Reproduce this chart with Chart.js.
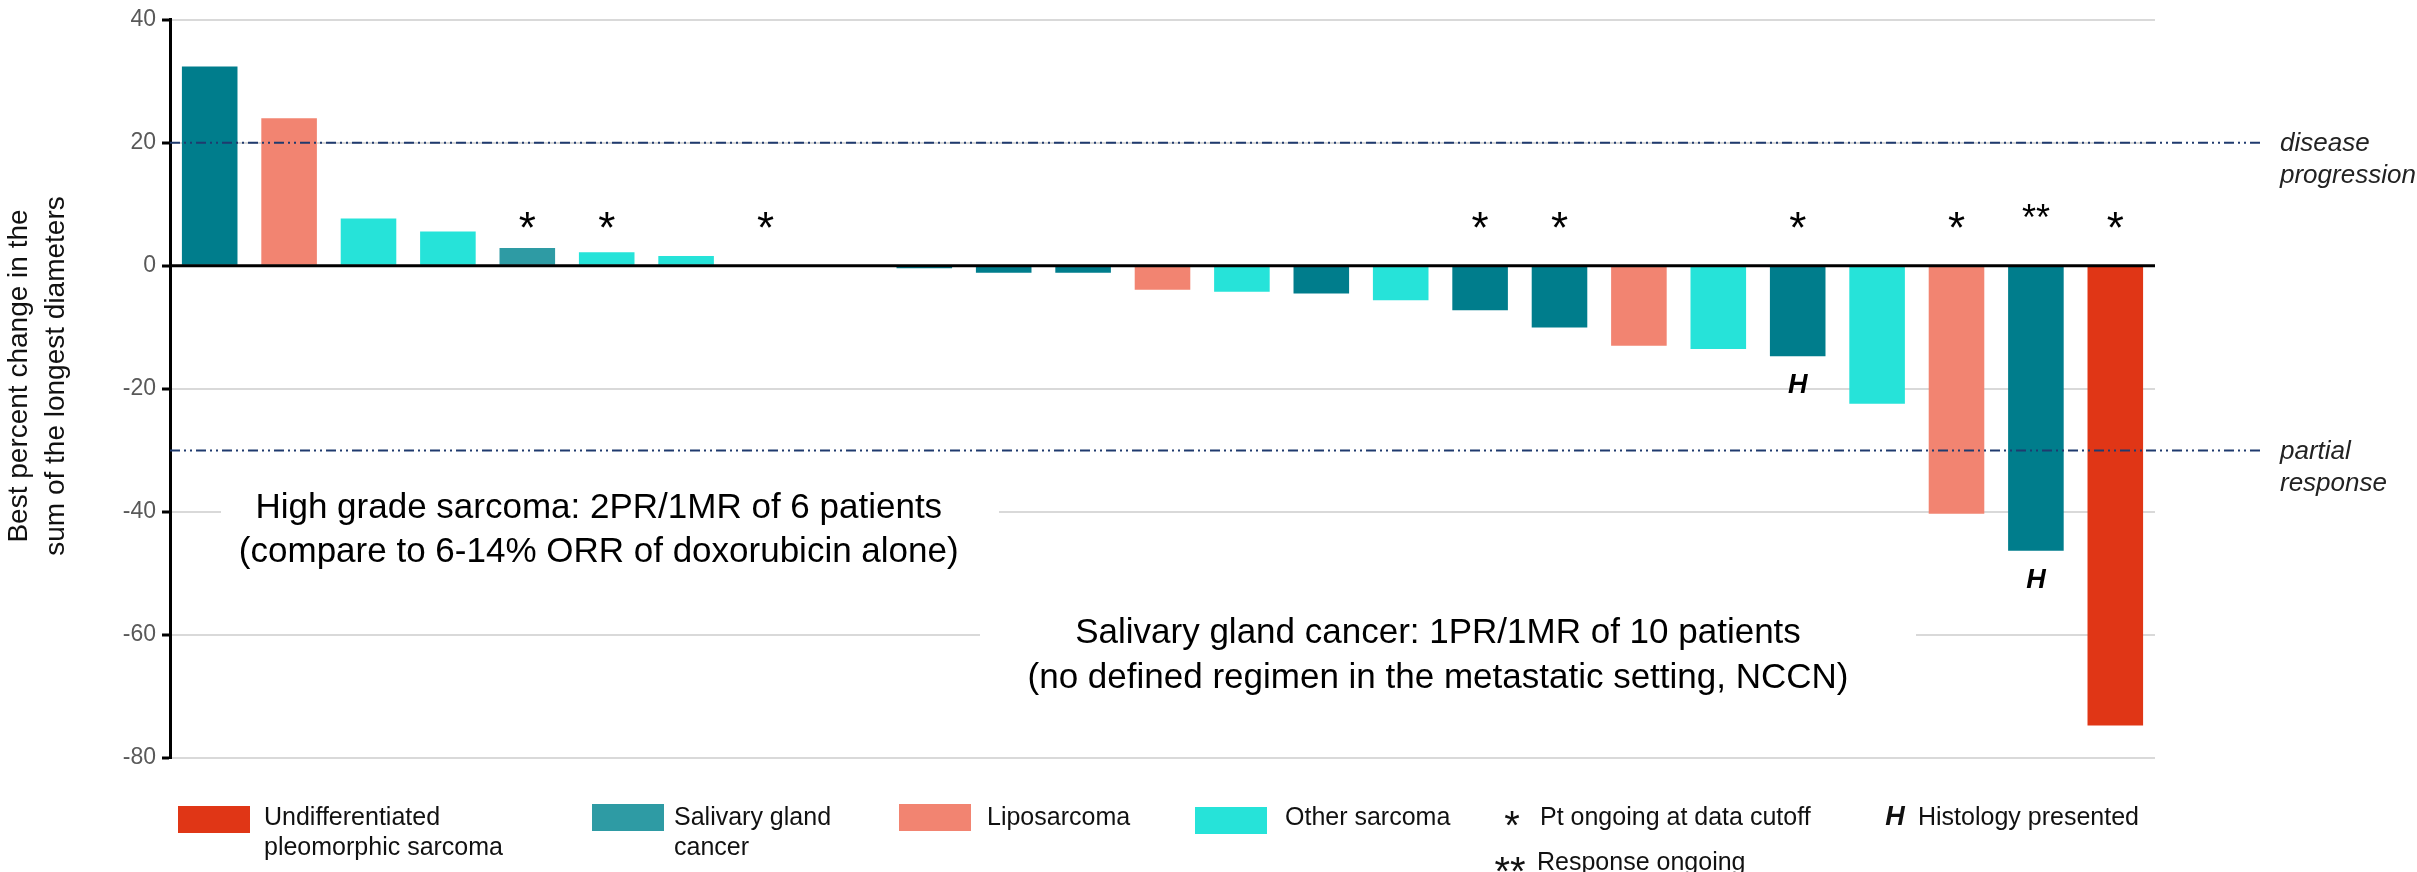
<!DOCTYPE html>
<html>
<head>
<meta charset="utf-8">
<script src="https://cdn.jsdelivr.net/npm/chart.js@4.4.1/dist/chart.umd.min.js"></script>
<style>
  html, body { margin: 0; padding: 0; background: #fff; }
  #wrap { width: 2417px; height: 872px; position: relative; }
</style>
</head>
<body>
<div id="wrap"><canvas id="waterfall"></canvas></div>
<script>
// patients, ordered from worst to best response
const patients = ['P1', 'P2', 'P3', 'P4', 'P5', 'P6', 'P7', 'P8', 'P9', 'P10', 'P11', 'P12', 'P13',
                  'P14', 'P15', 'P16', 'P17', 'P18', 'P19', 'P20', 'P21', 'P22', 'P23', 'P24', 'P25'];
// best percent change in sum of longest diameters
const bestChange = [32.4, 24.0, 7.7, 5.6, 2.9, 2.2, 1.6, 0, 0, -0.4, -1.1, -1.1, -3.9,
                    -4.2, -4.5, -5.6, -7.2, -10.0, -13.0, -13.5, -14.7, -22.4, -40.3, -46.3, -74.7];
// tumour type per patient (SGC2 = salivary, drawn in the legend shade)
const tumorType = ['SGC', 'LPS', 'OS', 'OS', 'SGC2', 'OS', 'OS', 'OS', 'OS', 'SGC', 'SGC', 'SGC', 'LPS',
                   'OS', 'SGC', 'OS', 'SGC', 'SGC', 'LPS', 'OS', 'SGC', 'OS', 'LPS', 'SGC', 'UPS'];
// status markers above the bars
const ongoing = ['', '', '', '', '*', '*', '', '*', '', '', '', '', '',
                 '', '', '', '*', '*', '', '', '*', '', '*', '**', '*'];
const histologyShown = [false, false, false, false, false, false, false, false, false, false, false, false, false,
                        false, false, false, false, false, false, false, true, false, false, true, false];
const yTicks = [-80, -60, -40, -20, 0, 20, 40];
const refLines = [
  { value: 20, label: ['disease', 'progression'] },
  { value: -30, label: ['partial', 'response'] }
];
const groupNotes = [
  { lines: ['High grade sarcoma: 2PR/1MR of 6 patients', '(compare to 6-14% ORR of doxorubicin alone)'] },
  { lines: ['Salivary gland cancer: 1PR/1MR of 10 patients', '(no defined regimen in the metastatic setting, NCCN)'] }
];
const legendLabels = [
  ['Undifferentiated', 'pleomorphic sarcoma'],
  ['Salivary gland', 'cancer'],
  ['Liposarcoma'],
  ['Other sarcoma']
];

const colors = {
  UPS: '#E03616',
  SGC: '#007D8C',
  SGC2: '#2E9BA4',
  LPS: '#F28471',
  OS: '#26E3D9'
};
const legendColors = [colors.UPS, colors.SGC2, colors.LPS, colors.OS];
const FONT = "'Liberation Sans', Arial, sans-serif";

const extras = {
  id: 'extras',
  beforeDatasetsDraw(chart) {
    const ctx = chart.ctx;
    const x = chart.scales.x, y = chart.scales.y;
    ctx.save();
    // white boxes that break the grid behind the group notes
    ctx.fillStyle = '#fff';
    ctx.fillRect(221, 478, 778, 104);
    ctx.fillRect(980, 604, 936, 100);
    ctx.fillStyle = '#000';
    ctx.font = '35px ' + FONT;
    ctx.textAlign = 'center';
    ctx.textBaseline = 'middle';
    const notePos = [{ cx: 4.9, v: [-39.4, -46.6] }, { cx: 15.47, v: [-59.7, -67.1] }];
    groupNotes.forEach((n, i) => {
      const cx = x.getPixelForValue(notePos[i].cx);
      n.lines.forEach((t, j) => ctx.fillText(t, cx, y.getPixelForValue(notePos[i].v[j])));
    });
    ctx.restore();
  },
  afterDatasetsDraw(chart) {
    const ctx = chart.ctx;
    const x = chart.scales.x, y = chart.scales.y;
    const area = chart.chartArea;
    ctx.save();
    // zero line
    ctx.strokeStyle = '#000';
    ctx.lineWidth = 3;
    ctx.beginPath();
    ctx.moveTo(area.left, y.getPixelForValue(0));
    ctx.lineTo(area.right, y.getPixelForValue(0));
    ctx.stroke();

    // RECIST thresholds
    ctx.strokeStyle = '#1F3A6E';
    ctx.lineWidth = 2;
    ctx.setLineDash([10, 4, 2, 4, 2, 4]);
    refLines.forEach(r => {
      const py = y.getPixelForValue(r.value);
      ctx.beginPath();
      ctx.moveTo(area.left, py);
      ctx.lineTo(2262, py);
      ctx.stroke();
    });
    ctx.setLineDash([]);
    ctx.fillStyle = '#222';
    ctx.font = 'italic 26px ' + FONT;
    ctx.textAlign = 'left';
    ctx.textBaseline = 'middle';
    refLines.forEach(r => {
      const py = y.getPixelForValue(r.value);
      ctx.fillText(r.label[0], 2280, py + 1);
      ctx.fillText(r.label[1], 2280, py + 33);
    });

    // ongoing markers
    ctx.fillStyle = '#000';
    ctx.textAlign = 'center';
    ctx.textBaseline = 'alphabetic';
    ongoing.forEach((m, i) => {
      if (!m) return;
      const px = x.getPixelForValue(i);
      ctx.font = (m.length > 1 ? '36px ' : '44px ') + FONT;
      const mt = ctx.measureText(m);
      const cy = y.getPixelForValue(m.length > 1 ? 9.0 : 7.4);
      ctx.fillText(m, px, cy + (mt.actualBoundingBoxAscent - mt.actualBoundingBoxDescent) / 2);
    });

    // histology markers under the bars
    ctx.font = 'bold italic 27px ' + FONT;
    ctx.textBaseline = 'middle';
    histologyShown.forEach((h, i) => {
      if (!h) return;
      ctx.fillText('H', x.getPixelForValue(i), y.getPixelForValue(bestChange[i] - 4.8));
    });
    ctx.restore();
  },
  afterDraw(chart) {
    const ctx = chart.ctx;
    ctx.save();
    ctx.font = '25px ' + FONT;
    ctx.fillStyle = '#111';
    ctx.textBaseline = 'middle';
    ctx.textAlign = 'left';
    const swatches = [
      { x: 178, y: 806, tx: 264 },
      { x: 592, y: 804, tx: 674 },
      { x: 899, y: 804, tx: 987 },
      { x: 1195, y: 807, tx: 1285 }
    ];
    legendLabels.forEach((lines, i) => {
      const s = swatches[i];
      ctx.fillStyle = legendColors[i];
      ctx.fillRect(s.x, s.y, 72, 27);
      ctx.fillStyle = '#111';
      lines.forEach((t, j) => ctx.fillText(t, s.tx, 818 + j * 30));
    });
    ctx.font = '40px ' + FONT;
    ctx.textAlign = 'center';
    ctx.fillText('*', 1512, 828);
    ctx.fillText('**', 1510, 874);
    ctx.font = 'bold italic 27px ' + FONT;
    ctx.fillText('H', 1895, 818);
    ctx.font = '25px ' + FONT;
    ctx.textAlign = 'left';
    ctx.fillText('Pt ongoing at data cutoff', 1540, 818);
    ctx.fillText('Response ongoing', 1537, 863);
    ctx.fillText('Histology presented', 1918, 818);

    // y-axis title
    ctx.font = '28px ' + FONT;
    ctx.fillStyle = '#111';
    ctx.textAlign = 'center';
    ctx.translate(0, 376);
    ctx.rotate(-Math.PI / 2);
    ctx.fillText('Best percent change in the', 0, 19);
    ctx.fillText('sum of the longest diameters', 0, 56);
    ctx.restore();
  }
};

const ctx = document.getElementById('waterfall').getContext('2d');
new Chart(ctx, {
  type: 'bar',
  data: {
    labels: patients,
    datasets: [{
      label: 'Best percent change',
      data: bestChange,
      backgroundColor: tumorType.map(t => colors[t]),
      borderWidth: 0,
      barPercentage: 0.7,
      categoryPercentage: 1.0
    }]
  },
  options: {
    responsive: true,
    maintainAspectRatio: false,
    animation: false,
    layout: { padding: { left: 0, top: 14, right: 262, bottom: 114 } },
    plugins: { legend: { display: false }, tooltip: { enabled: false } },
    scales: {
      x: { display: false },
      y: {
        min: -80,
        max: 40,
        afterBuildTicks: scale => { scale.ticks = yTicks.map(v => ({ value: v })); },
        afterFit: scale => { scale.width = 170; },
        ticks: {
          color: '#595959',
          font: { family: FONT, size: 23 },
          padding: 6
        },
        grid: {
          color: '#D9D9D9',
          lineWidth: 2,
          tickColor: '#000',
          tickLength: 8,
          tickWidth: 3
        },
        border: { color: '#000', width: 3 }
      }
    }
  },
  plugins: [extras]
});
</script>
</body>
</html>
